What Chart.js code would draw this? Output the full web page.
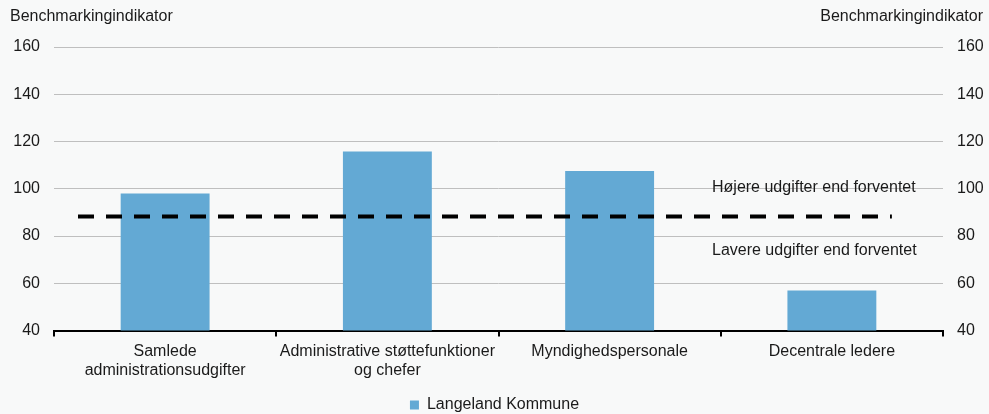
<!DOCTYPE html>
<html>
<head>
<meta charset="utf-8">
<script src="https://cdn.jsdelivr.net/npm/chart.js@4/dist/chart.umd.min.js"></script>
<style>
  html, body { margin: 0; padding: 0; background: #f8f9f9; overflow: hidden; }
  #wrap { width: 989px; height: 414px; position: relative; }
</style>
</head>
<body>
<div id="wrap"><canvas id="barChart" width="989" height="414"></canvas></div>
<script>
let categories = [
    ["Samlede", "administrationsudgifter"],
    ["Administrative støttefunktioner", "og chefer"],
    ["Myndighedspersonale"],
    ["Decentrale ledere"]
];
let kommuneValues = [98, 115.8, 107.5, 57];
let expectedLevel = 88.3;
let expectedLineX = [0.108, 3.77];
let yTicks = [40, 60, 80, 100, 120, 140, 160];
let axisTitle = "Benchmarkingindikator";
let notes = [
    { text: "Højere udgifter end forventet", value: 100.6 },
    { text: "Lavere udgifter end forventet", value: 73.9 }
];

const font = "Liberation Sans, Arial, sans-serif";
Chart.defaults.font.family = font;
Chart.defaults.font.size = 16;
Chart.defaults.color = '#1a1a1a';

// axis titles at the top and the two text notes
const textPlugin = {
    id: 'texts',
    afterDraw(chart) {
        const c = chart.ctx;
        const y = chart.scales.y;
        c.save();
        c.font = '16px ' + font;
        c.fillStyle = '#1a1a1a';
        c.textBaseline = 'middle';
        c.textAlign = 'left';
        c.fillText(axisTitle, 10, 17);
        c.textAlign = 'right';
        c.fillText(axisTitle, 983, 17);
        c.textAlign = 'left';
        for (const n of notes) {
            c.fillText(n.text, 712, y.getPixelForValue(n.value));
        }
        c.restore();
    }
};

let ctx = document.getElementById('barChart').getContext('2d');

let data = {
    labels: categories,
    datasets: [
        {
            type: 'bar',
            label: 'Langeland Kommune',
            data: kommuneValues,
            backgroundColor: '#63a9d4',
            grouped: false,
            categoryPercentage: 1,
            barPercentage: 0.4,
            order: 2
        },
        {
            type: 'line',
            label: 'Forventet',
            xAxisID: 'x2',
            data: expectedLineX.map(function (x) { return { x: x, y: expectedLevel }; }),
            borderColor: '#000',
            borderWidth: 4,
            borderDash: [16, 12],
            pointRadius: 0,
            fill: false,
            order: 1
        }
    ]
};

let options = {
    responsive: false,
    animation: { duration: 0 },
    layout: { padding: { top: 47, bottom: -9 } },
    plugins: {
        legend: {
            position: 'bottom',
            labels: {
                boxWidth: 9,
                boxHeight: 9,
                padding: 2,
                font: { size: 16 },
                filter: function (item) { return item.datasetIndex === 0; }
            }
        },
        tooltip: { enabled: false }
    },
    scales: {
        x: {
            grid: {
                offset: true,
                drawOnChartArea: false,
                color: '#000',
                lineWidth: 2,
                tickLength: 6
            },
            border: { color: '#000', width: 2 },
            ticks: { maxRotation: 0, autoSkip: false, padding: 5, font: { size: 16 } },
            afterFit: function (axis) { axis.height += 10; }
        },
        x2: {
            type: 'linear',
            display: false,
            min: 0,
            max: 4,
            offset: false
        },
        y: {
            position: 'left',
            min: 40,
            max: 160,
            afterBuildTicks: function (axis) { axis.ticks = yTicks.map(function (v) { return { value: v }; }); },
            afterFit: function (axis) { axis.width = 54; },
            grid: { color: '#bfbfbf', lineWidth: 1, drawTicks: false },
            border: { display: false },
            ticks: { padding: 14, font: { size: 16 } }
        },
        y2: {
            position: 'right',
            min: 40,
            max: 160,
            afterBuildTicks: function (axis) { axis.ticks = yTicks.map(function (v) { return { value: v }; }); },
            afterFit: function (axis) { axis.width = 46; },
            grid: { display: false, drawTicks: false },
            border: { display: false },
            ticks: { padding: 14, font: { size: 16 } }
        }
    }
};

let chart = new Chart(ctx, {
    type: 'bar',
    data: data,
    options: options,
    plugins: [textPlugin]
});
</script>
</body>
</html>
